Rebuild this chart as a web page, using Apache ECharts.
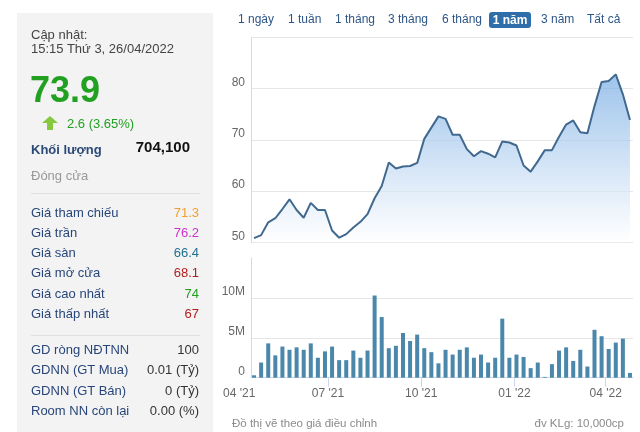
<!DOCTYPE html>
<html>
<head>
<meta charset="utf-8">
<script src="https://cdn.jsdelivr.net/npm/echarts@6/dist/echarts.min.js"></script>
<style>
  html, body { margin:0; padding:0; background:#fff; }
  body { width:640px; height:432px; position:relative; overflow:hidden; font-family:"Liberation Sans", Arial, sans-serif; }
  #chart { position:absolute; left:0; top:0; width:640px; height:432px; z-index:1; }
  .abs { position:absolute; white-space:nowrap; z-index:2; }
  #panel { position:absolute; left:17px; top:13px; width:196px; height:419px; background:#f3f3f3; z-index:0; }
  .row { position:absolute; left:31px; width:168px; height:16px; line-height:16px; font-size:13px; display:flex; justify-content:space-between; z-index:2; }
  .row .l { color:#29467a; }
  .sep { position:absolute; left:31px; width:169px; height:1px; background:#e1e1e1; z-index:2; }
  .btn { position:absolute; top:11px; line-height:16px; font-size:12px; color:#2d5687; z-index:2; white-space:nowrap; }
</style>
</head>
<body>
<div id="panel"></div>
<div class="abs" style="left:31px;top:27px;font-size:13px;line-height:16px;color:#444;">Cập nhật:</div>
<div class="abs" style="left:31px;top:41px;font-size:13px;line-height:16px;color:#444;">15:15 Thứ 3, 26/04/2022</div>
<div class="abs" style="left:30px;top:70px;font-size:36px;line-height:40px;font-weight:bold;color:#22a022;">73.9</div>
<svg class="abs" style="left:42px;top:116px;" width="16" height="14" viewBox="0 0 16 14"><polygon points="8,0 16,7 11,7 11,14 5,14 5,7 0,7" fill="#86c940"/></svg>
<div class="abs" style="left:67px;top:116px;font-size:13px;line-height:16px;color:#22a022;">2.6 (3.65%)</div>
<div class="abs" style="left:31px;top:142px;font-size:13px;line-height:16px;font-weight:bold;color:#2b4a78;">Khối lượng</div>
<div class="abs" style="left:110px;width:80px;text-align:right;top:138px;font-size:15px;line-height:18px;font-weight:bold;color:#111;">704,100</div>
<div class="abs" style="left:31px;top:168px;font-size:13px;line-height:16px;color:#999;">Đóng cửa</div>
<div class="sep" style="top:193px;"></div>
<div class="sep" style="top:335px;"></div>

<div class="btn" style="left:238px;">1 ngày</div>
<div class="btn" style="left:288px;">1 tuần</div>
<div class="btn" style="left:335px;">1 tháng</div>
<div class="btn" style="left:388px;">3 tháng</div>
<div class="btn" style="left:442px;">6 tháng</div>
<div class="abs" style="left:489px;top:12px;width:42px;height:16px;line-height:16px;background:#2f6ea8;border-radius:3px;color:#fff;font-weight:bold;font-size:12px;text-align:center;">1 năm</div>
<div class="btn" style="left:541px;">3 năm</div>
<div class="btn" style="left:587px;">Tất cả</div>

<div class="abs" style="left:232px;top:415px;font-size:11.5px;line-height:16px;color:#8a8a8a;">Đồ thị vẽ theo giá điều chỉnh</div>
<div class="abs" style="left:524px;width:100px;text-align:right;top:415px;font-size:11.5px;line-height:16px;color:#8a8a8a;">đv KLg: 10,000cp</div>

<div id="chart"></div>
<script>
// ---- Data ----
const weekDates = [
  '2021-04-19','2021-04-26','2021-05-03','2021-05-10','2021-05-17','2021-05-24','2021-05-31',
  '2021-06-07','2021-06-14','2021-06-21','2021-06-28','2021-07-05','2021-07-12','2021-07-19',
  '2021-07-26','2021-08-02','2021-08-09','2021-08-16','2021-08-23','2021-08-30','2021-09-06',
  '2021-09-13','2021-09-20','2021-09-27','2021-10-04','2021-10-11','2021-10-18','2021-10-25',
  '2021-11-01','2021-11-08','2021-11-15','2021-11-22','2021-11-29','2021-12-06','2021-12-13',
  '2021-12-20','2021-12-27','2022-01-03','2022-01-10','2022-01-17','2022-01-24','2022-01-31',
  '2022-02-07','2022-02-14','2022-02-21','2022-02-28','2022-03-07','2022-03-14','2022-03-21',
  '2022-03-28','2022-04-04','2022-04-11','2022-04-18','2022-04-25'
];
const prices = [
  50.8,51.4,53.9,54.7,56.5,58.4,56.3,54.8,57.7,56.3,
  56.3,52.3,50.9,51.6,52.9,54.0,55.5,58.6,61.0,65.6,
  64.4,64.8,64.9,65.5,70.2,72.4,74.6,74.1,71.0,71.0,
  68.2,66.8,67.8,67.3,66.6,69.7,69.5,68.9,65.0,63.8,
  65.8,68.0,68.0,70.6,73.0,73.8,71.5,71.3,76.6,81.3,
  81.5,82.8,78.9,73.9
];
// volume in millions
const volumes = [
  0.3,1.9,4.3,2.8,3.9,3.5,3.8,3.5,4.3,2.5,
  3.3,3.9,2.2,2.2,3.4,2.5,3.4,10.3,7.6,3.7,
  4.0,5.6,4.6,5.4,3.7,3.2,1.8,3.5,2.9,3.5,
  3.8,2.5,2.9,1.9,2.5,7.4,2.5,2.9,2.6,1.2,
  1.9,0.1,1.7,3.4,3.8,2.1,3.5,1.4,6.0,5.2,
  3.6,4.4,4.9,0.6
];
const quarterTickDates = ['2021-07-01','2021-10-01','2022-01-01','2022-04-01'];
const hiddenFirstTick = '2021-04-01';
const axisStart = '2021-04-16';
const axisEnd = '2022-04-28';
const priceTicks = { min:50, max:90, interval:10 };
const volTicks = { min:0, max:15, interval:5 };

const rows1 = [
  ['Giá tham chiếu','71.3','#f0a030'],
  ['Giá trần','76.2','#cc33cc'],
  ['Giá sàn','66.4','#1f6f92'],
  ['Giá mở cửa','68.1','#b02020'],
  ['Giá cao nhất','74','#22a022'],
  ['Giá thấp nhất','67','#b02020']
];
const rows1Y = [213,233,253,273,294,314];
const rows2 = [
  ['GD ròng NĐTNN','100'],
  ['GDNN (GT Mua)','0.01 (Tỷ)'],
  ['GDNN (GT Bán)','0 (Tỷ)'],
  ['Room NN còn lại','0.00 (%)']
];
const rows2Y = [350,370,391,411];

// ---- Panel rows ----
function addRow(y, label, value, color) {
  const d = document.createElement('div');
  d.className = 'row';
  d.style.top = (y - 8) + 'px';
  d.innerHTML = '<span class="l"></span><span class="v"></span>';
  d.querySelector('.l').textContent = label;
  const v = d.querySelector('.v');
  v.textContent = value;
  v.style.color = color || '#333';
  document.body.appendChild(d);
}
rows1.forEach((r, i) => addRow(rows1Y[i], r[0], r[1], r[2]));
rows2.forEach((r, i) => addRow(rows2Y[i], r[0], r[1], '#333'));

// ---- Chart ----
function ts(s) { const p = s.split('-').map(Number); return new Date(p[0], p[1]-1, p[2]).getTime(); }
const priceData = weekDates.map((d, i) => [ts(d), prices[i]]);
const volData = weekDates.map((d, i) => [ts(d), volumes[i]]);
const qTicks = quarterTickDates.map(ts);
function fmtDate(v) {
  const d = new Date(v);
  const m = String(d.getMonth() + 1).padStart(2, '0');
  const y = String(d.getFullYear()).slice(2);
  return m + " '" + y;
}

const chart = echarts.init(document.getElementById('chart'), null, { renderer: 'canvas' });
const FONT = '"Liberation Sans", Arial, sans-serif';
const labelStyle = { color:'#666', fontSize:12, fontFamily:FONT };
chart.setOption({
  animation: false,
  grid: [
    { left:251, top:37.5, width:382, height:204.8 },
    { left:251, top:258, width:382, height:119.7 }
  ],
  xAxis: [
    { type:'value', gridIndex:0, min:ts(axisStart), max:ts(axisEnd), show:false,
      splitLine:{ show:false } },
    { type:'value', gridIndex:1, min:ts(axisStart), max:ts(axisEnd),
      axisLine:{ show:true, lineStyle:{ color:'#ccd6eb', width:1 } },
      axisTick:{ show:true, length:9, customValues:qTicks, lineStyle:{ color:'#ccd6eb' } },
      axisLabel:Object.assign({ customValues:qTicks, formatter:fmtDate, margin:10 }, labelStyle),
      splitLine:{ show:false } }
  ],
  yAxis: [
    { type:'value', gridIndex:0, min:priceTicks.min, max:priceTicks.max, interval:priceTicks.interval,
      axisLine:{ show:true, lineStyle:{ color:'#d9d9d9' } }, axisTick:{ show:false },
      axisLabel:Object.assign({ margin:6, verticalAlign:'bottom', lineHeight:12,
        formatter: v => v === priceTicks.max ? '' : String(v) }, labelStyle),
      splitLine:{ show:true, lineStyle:{ color:'#e6e6e6' } } },
    { type:'value', gridIndex:1, min:volTicks.min, max:volTicks.max, interval:volTicks.interval,
      axisLine:{ show:true, lineStyle:{ color:'#d9d9d9' } }, axisTick:{ show:false },
      axisLabel:Object.assign({ margin:6, verticalAlign:'bottom', lineHeight:12,
        formatter: v => v === 0 ? '0' : (v === volTicks.max ? '' : v + 'M') }, labelStyle),
      splitLine:{ show:true, showMinLine:false, showMaxLine:false, lineStyle:{ color:'#e6e6e6' } } }
  ],
  graphic: [
    { type:'text', left:223, top:388, style:{ text:fmtDate(ts(hiddenFirstTick)), fill:'#666', fontSize:12,
      fontFamily:FONT } }
  ],
  series: [
    { type:'line', xAxisIndex:0, yAxisIndex:0, data:priceData, symbol:'none', smooth:false,
      lineStyle:{ color:'#41698f', width:2 },
      areaStyle:{ origin:'start', color: new echarts.graphic.LinearGradient(0,0,0,1,[
        { offset:0, color:'#74aae3' }, { offset:1, color:'rgba(255,255,255,0.95)' }]) } },
    { type:'bar', xAxisIndex:1, yAxisIndex:1, data:volData, barWidth:4,
      itemStyle:{ color:'#4a87ab' } }
  ]
});
</script>
</body>
</html>
